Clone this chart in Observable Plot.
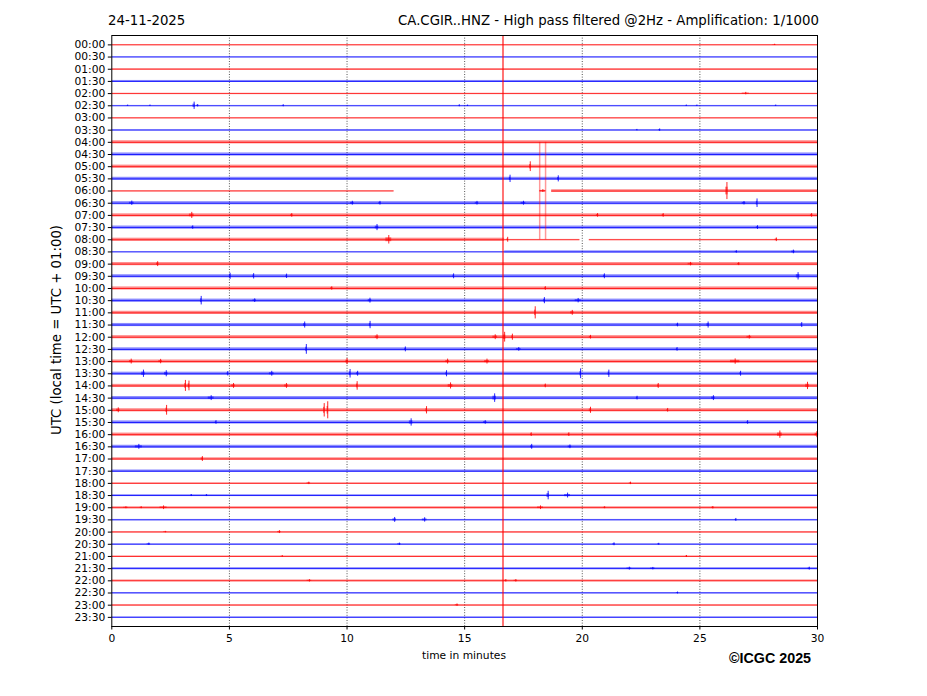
<!DOCTYPE html>
<html><head><meta charset="utf-8">
<script src="https://cdn.jsdelivr.net/npm/d3@7"></script>
<script src="https://cdn.jsdelivr.net/npm/@observablehq/plot@0.6"></script>
<style>
body{margin:0;background:#fff;font-family:"DejaVu Sans",sans-serif}
#wrap{position:relative;width:927px;height:696px}
.t{position:absolute;color:#000;white-space:nowrap;line-height:1}
</style></head><body><div id="wrap"></div>
<script>
const dateLabel = "24-11-2025";
const title = "CA.CGIR..HNZ - High pass filtered @2Hz - Amplification: 1/1000";
const yTitle = "UTC (local time = UTC + 01:00)";
const xTitle = "time in minutes";
const credit = "©ICGC 2025";
const hours = ["00:00","00:30","01:00","01:30","02:00","02:30","03:00","03:30","04:00","04:30","05:00","05:30","06:00","06:30","07:00","07:30","08:00","08:30","09:00","09:30","10:00","10:30","11:00","11:30","12:00","12:30","13:00","13:30","14:00","14:30","15:00","15:30","16:00","16:30","17:00","17:30","18:00","18:30","19:00","19:30","20:00","20:30","21:00","21:30","22:00","22:30","23:00","23:30"];
// background noise half-amplitude per row (in row units)
const noise = [0.03,0.03,0.04,0.08,0.03,0.03,0.03,0.04,
  0.13,0.13,0.13,0.13,0.13,0.13,0.13,0.13,0.13,0.13,0.13,0.13,0.13,0.13,0.13,0.13,0.13,0.13,0.13,0.13,
  0.13,0.13,0.13,0.13,0.13,0.13,0.1,0.1,
  0.04,0.07,0.08,0.04,0.04,0.04,0.04,0.08,0.07,0.04,0.04,0.04];
// rows whose trace is broken into pieces: [row, start, end, half-amplitude]
const segments = [
  [12,0,12.0,0.03],[12,18.2,18.45,0.03],[12,18.7,30,0.11],
  [16,0,16.7,0.13],[16,16.7,19.9,0.03],[16,20.3,30,0.03],
  [17,0,16.7,0.03],[17,16.7,30,0.09]
];
// events: [row, minute, duration (min), half-amplitude (rows)]
const events = [
  [0,28.1,0.15,0.05],[4,26.8,0.3,0.1],
  [5,3.45,0.1,0.3],[5,3.6,0.1,0.1],[5,0.65,0.05,0.06],[5,1.6,0.05,0.06],[5,7.25,0.08,0.08],[5,14.75,0.05,0.08],[5,15.1,0.05,0.06],[5,24.4,0.05,0.06],[5,24.85,0.05,0.06],[5,28.2,0.05,0.06],
  [7,22.3,0.05,0.06],[7,23.25,0.08,0.1],
  [10,17.76,0.06,0.4],[11,16.9,0.06,0.3],[11,18.95,0.06,0.25],
  [12,26.1,0.1,0.7],[12,18.2,0.25,0.12],
  [13,0.75,0.2,0.18],[13,10.15,0.15,0.16],[13,15.45,0.15,0.15],[13,17.4,0.2,0.16],[13,26.8,0.15,0.14],[13,27.4,0.06,0.35],[13,11.35,0.1,0.15],
  [14,3.3,0.2,0.25],[14,7.6,0.1,0.15],[14,20.6,0.1,0.15],[14,23.4,0.08,0.15],[14,29.7,0.1,0.15],
  [15,11.2,0.15,0.25],[15,27.4,0.1,0.15],[15,3.4,0.08,0.14],
  [16,11.65,0.25,0.35],[16,16.8,0.06,0.2],[16,28.2,0.1,0.15],
  [17,28.9,0.15,0.15],[17,26.5,0.1,0.1],
  [18,1.9,0.1,0.2],[18,26.6,0.1,0.12],[18,24.5,0.2,0.14],
  [19,5.0,0.06,0.25],[19,6.0,0.06,0.22],[19,7.4,0.06,0.18],[19,14.5,0.06,0.2],[19,20.9,0.08,0.2],[19,29.1,0.15,0.3],
  [20,18.4,0.06,0.15],[20,9.3,0.1,0.14],
  [21,3.77,0.06,0.35],[21,10.9,0.15,0.2],[21,18.35,0.08,0.25],[21,19.7,0.25,0.18],[21,6.0,0.15,0.15],
  [22,17.97,0.06,0.5],[22,19.5,0.15,0.2],
  [23,8.15,0.1,0.25],[23,10.95,0.06,0.3],[23,25.3,0.1,0.25],[23,29.3,0.06,0.2],[23,24.0,0.1,0.15],
  [24,11.2,0.15,0.2],[24,16.2,0.2,0.2],[24,16.65,0.1,0.4],[24,17.0,0.06,0.25],[24,20.3,0.1,0.15],[24,27.0,0.2,0.15],
  [25,8.24,0.06,0.4],[25,12.45,0.06,0.2],[25,24.0,0.06,0.15],[25,17.2,0.2,0.15],
  [26,0.75,0.15,0.2],[26,2.0,0.15,0.18],[26,9.95,0.1,0.25],[26,14.2,0.15,0.2],[26,15.85,0.2,0.2],[26,26.3,0.4,0.22],
  [27,1.27,0.15,0.3],[27,2.24,0.15,0.25],[27,4.9,0.06,0.18],[27,6.7,0.2,0.2],[27,10.1,0.06,0.35],[27,14.2,0.06,0.25],[27,19.9,0.06,0.4],[27,21.1,0.06,0.3],[27,26.7,0.06,0.2],[27,10.4,0.1,0.2],
  [28,3.1,0.06,0.45],[28,3.25,0.06,0.4],[28,10.4,0.06,0.35],[28,14.3,0.2,0.25],[28,18.4,0.06,0.15],[28,23.2,0.06,0.2],[28,29.5,0.15,0.3],[28,5.1,0.15,0.2],[28,7.35,0.15,0.2],
  [29,4.1,0.25,0.2],[29,16.2,0.15,0.35],[29,25.5,0.15,0.2],[29,22.3,0.06,0.15],
  [30,0.2,0.15,0.2],[30,2.3,0.06,0.4],[30,9.0,0.06,0.55],[30,9.15,0.06,0.7],[30,13.35,0.06,0.3],[30,20.3,0.1,0.25],[30,23.6,0.06,0.15],
  [31,4.4,0.06,0.15],[31,12.65,0.15,0.3],[31,27.0,0.06,0.15],[31,15.8,0.15,0.15],
  [32,28.3,0.2,0.3],[32,29.9,0.15,0.25],[32,17.8,0.06,0.15],[32,19.4,0.06,0.15],
  [33,1.0,0.3,0.2],[33,17.8,0.1,0.2],[33,19.4,0.15,0.15],
  [34,3.8,0.1,0.2],
  [36,22.0,0.1,0.1],[36,8.3,0.15,0.1],
  [37,18.5,0.1,0.35],[37,19.25,0.25,0.2],[37,4.0,0.06,0.08],[37,3.35,0.06,0.08],
  [38,2.05,0.3,0.15],[38,18.1,0.25,0.15],[38,0.5,0.2,0.08],[38,1.2,0.1,0.08],[38,25.5,0.1,0.1],[38,20.9,0.1,0.08],
  [39,11.95,0.15,0.2],[39,13.2,0.2,0.18],[39,26.5,0.06,0.12],
  [40,7.05,0.15,0.12],[40,2.2,0.15,0.06],
  [41,1.5,0.15,0.1],[41,12.15,0.15,0.1],[41,21.3,0.1,0.12],[41,23.2,0.1,0.08],
  [42,24.4,0.06,0.08],[42,7.2,0.1,0.06],
  [43,21.9,0.2,0.12],[43,22.9,0.2,0.1],[43,29.6,0.1,0.12],
  [44,8.3,0.2,0.1],[44,17.1,0.15,0.1],[44,16.7,0.1,0.1],
  [45,24.0,0.1,0.08],[46,14.6,0.15,0.1]
];
// clipped large-amplitude streaks: [minute, fromRow, toRow]
const streaks = [[18.19,8,16],[18.44,8,16]];
const markerMinute = 16.63;
const gridMinutes = [5,10,15,20,25];
const xTicks = [0,5,10,15,20,25,30];

const colorOf = r => r % 2 ? "#0000ff" : "#ff0000";
const specialRows = new Set(segments.map(s => s[0]));
const traces = [];
hours.forEach((h, i) => {
  if (!specialRows.has(i)) traces.push({row: i, x1: 0, x2: 30, amp: noise[i]});
});
segments.forEach(([row, x1, x2, amp]) => traces.push({row, x1, x2, amp}));
const ev = events.map(([row, t, dur, amp]) => ({row, t, dur, amp}));
const st = streaks.map(([t, r1, r2]) => ({t, r1, r2}));

const plot = Plot.plot({
  width: 927, height: 696,
  marginTop: 35, marginBottom: 70, marginLeft: 111.3, marginRight: 110,
  style: {fontFamily: "DejaVu Sans", fontSize: "10.7px", color: "#000", background: "#fff"},
  x: {domain: [0, 30]},
  y: {domain: [-0.77, 47.75], reverse: true},
  color: {type: "identity"},
  marks: [
    Plot.ruleX(gridMinutes, {stroke: "#000", strokeDasharray: "1,1.6", strokeWidth: 0.8, strokeOpacity: 0.85}),
    Plot.rect(traces, {x1: "x1", x2: "x2", y1: d => d.row - d.amp, y2: d => d.row + d.amp, fill: d => colorOf(d.row), fillOpacity: 0.45}),
    Plot.ruleY(traces, {x1: "x1", x2: "x2", y: "row", stroke: d => colorOf(d.row), strokeWidth: 1, strokeOpacity: 0.8}),
    // burst envelope
    Plot.rect(ev, {x1: "t", x2: d => d.t + d.dur, y1: d => d.row - d.amp * 0.45, y2: d => d.row + d.amp * 0.45, fill: d => colorOf(d.row), fillOpacity: 0.55}),
    // peak spike
    Plot.ruleX(ev, {x: d => d.t + d.dur / 2, y1: d => d.row - d.amp, y2: d => d.row + d.amp, stroke: d => colorOf(d.row), strokeWidth: 1, strokeOpacity: 0.85}),
    Plot.ruleX(st, {x: "t", y1: "r1", y2: "r2", stroke: "#ff0000", strokeOpacity: 0.4, strokeWidth: 1.5}),
    Plot.ruleX([markerMinute], {stroke: "#ff0000", strokeOpacity: 0.55, strokeWidth: 2}),
    Plot.frame({stroke: "#000", strokeWidth: 1}),
    Plot.axisY(d3.range(hours.length), {tickFormat: i => hours[i], tickSize: 3.5, tickPadding: 3, label: null, fontSize: 10.7}),
    Plot.axisX(xTicks, {tickSize: 3.5, tickPadding: 4, label: null, fontSize: 10.7})
  ]
});
const wrap = document.getElementById("wrap");
wrap.appendChild(plot);
function addText(txt, css) {
  const d = document.createElement("div");
  d.className = "t"; d.textContent = txt;
  Object.assign(d.style, css);
  wrap.appendChild(d);
}
addText(dateLabel, {left: "108px", top: "14px", fontSize: "13.3px"});
addText(title, {right: "108px", top: "14px", fontSize: "13.3px"});
addText(xTitle, {left: "464px", top: "651px", fontSize: "10.7px", transform: "translateX(-50%)"});
addText(credit, {left: "729px", top: "651px", fontSize: "14.3px", fontWeight: "bold", fontFamily: "'Liberation Sans', Arial, sans-serif"});
addText(yTitle, {left: "57px", top: "330px", fontSize: "13.3px", transform: "translate(-50%,-50%) rotate(-90deg)"});
</script></body></html>
